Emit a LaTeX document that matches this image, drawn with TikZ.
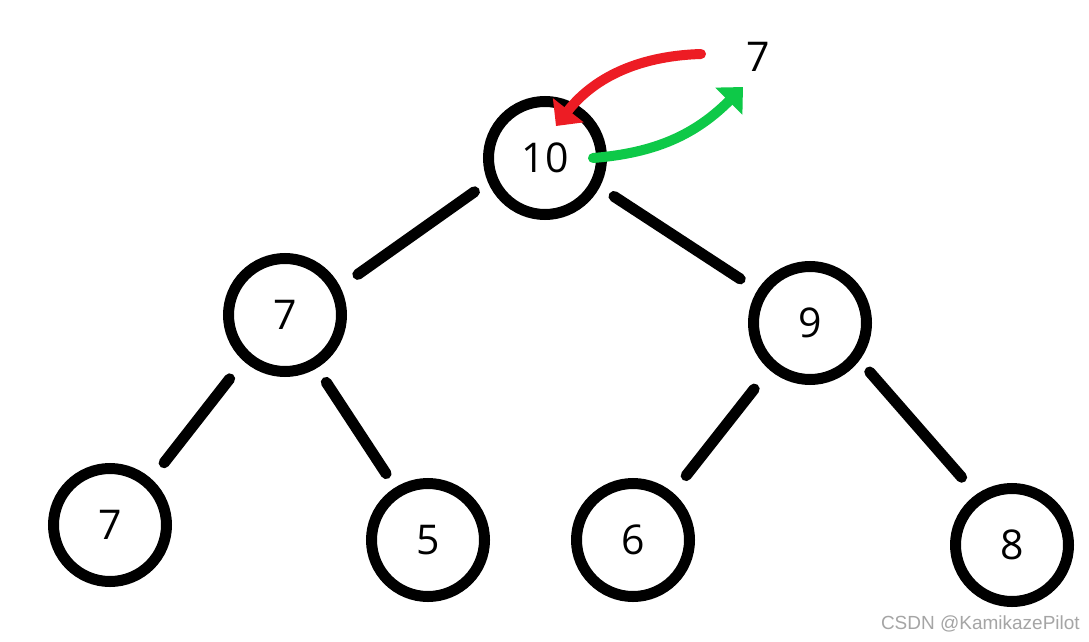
\documentclass[tikz,border=0pt]{standalone}
\usepackage{fontspec}
\setmainfont{Open Sans}
\newfontfamily\wmfont{Liberation Sans}
\usetikzlibrary{arrows.meta}
\definecolor{myred}{RGB}{237,28,36}
\definecolor{mygreen}{RGB}{14,201,72}
\definecolor{wmgray}{RGB}{165,165,165}
\begin{document}
\begin{tikzpicture}[x=1pt,y=-1pt,
  vert/.style={circle,draw=black,line width=11pt,minimum size=113pt,inner sep=0pt,
    font=\fontsize{41}{48}\selectfont},
  lbl/.style={inner sep=0pt,font=\fontsize{41}{48}\selectfont},
  edge/.style={line width=11pt,line cap=round},
  redarr/.style={draw=myred,line width=10pt,line cap=round,-{Triangle[length=20pt,width=38pt]}},
  greenarr/.style={draw=mygreen,line width=10pt,line cap=round,-{Triangle[length=20pt,width=37pt]}}]
\useasboundingbox (0,0) rectangle (1089,642);
\fill[white] (0,0) rectangle (1089,642);

\node[vert] (root) at (545,158) {10};
\node[vert] (l)    at (285,315) {7};
\node[vert] (r)    at (810,323) {9};
\node[vert] (ll)   at (110,525) {7};
\node[vert] (lr)   at (428,540) {5};
\node[vert] (rl)   at (633,540) {6};
\node[vert] (rr)   at (1012,545) {8};
\node[lbl] (top) at (758,57) {7};

\draw[edge,shorten <=16.5pt,shorten >=21.5pt] (root.203) -- (l.27);
\draw[edge,shorten <=17pt,shorten >=20.5pt] (root.332) -- (r.148);
\draw[edge,shorten <=22.5pt,shorten >=20.5pt] (l.228) -- (ll.48);
\draw[edge,shorten <=17pt,shorten >=16.5pt] (l.301) -- (lr.122);
\draw[edge,shorten <=24.5pt,shorten >=21.5pt] (r.229) -- (rl.50);
\draw[edge,shorten <=15.5pt,shorten >=22.5pt] (r.323) -- (rr.125);

\coordinate (rs) at (701,54);
\coordinate (rt) at (556,126);
\coordinate (gs) at (593,158);
\coordinate (gt) at (743,87);
\draw[redarr] (rs) .. controls (635,56) and (592,80) .. (rt);
\draw[greenarr] (gs) .. controls (655,153) and (695,135) .. (gt);

\node[anchor=south east,inner sep=0pt,text=wmgray,font=\wmfont\fontsize{19}{22}\selectfont] (wm) at (1080,632) {CSDN @KamikazePilot};
\end{tikzpicture}
\end{document}
